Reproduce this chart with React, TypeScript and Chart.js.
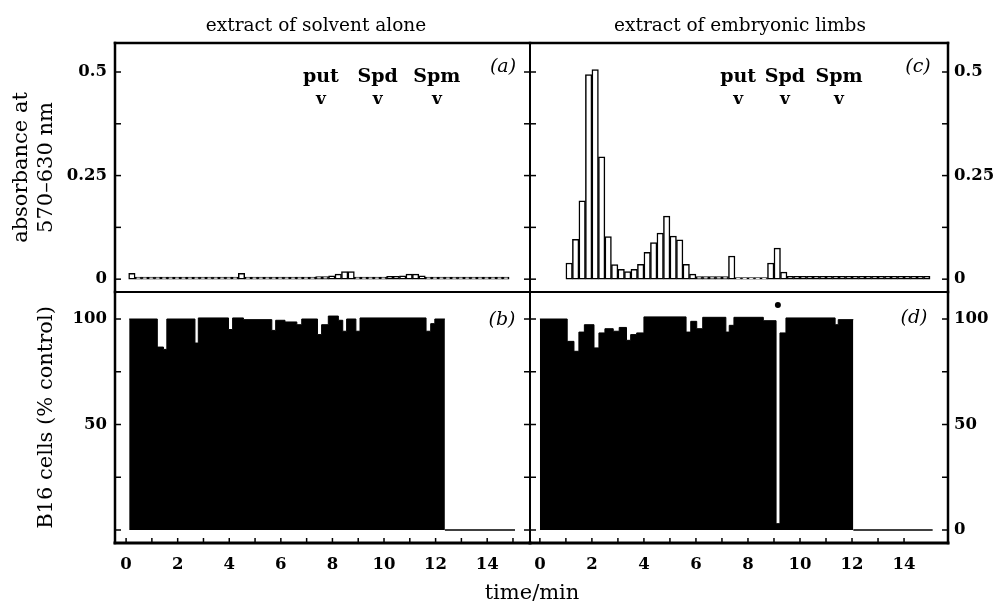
import React, { useEffect, useRef } from "react";
import { Chart, registerables } from "chart.js";
Chart.register(...registerables);

// ---------------- data ----------------
const binWidth = 0.25; // min per fraction

// (a) absorbance, extract of solvent alone (fractions start at 0.1 min)
const absStartA = 0.1;
const absorbanceA = [
  0.014,
  0.005, 0.005, 0.005, 0.005, 0.005, 0.005, 0.005, 0.005,
  0.005, 0.005, 0.005, 0.005, 0.005, 0.005, 0.005, 0.005,
  0.014,
  0.005, 0.005, 0.005, 0.005, 0.005, 0.005, 0.005, 0.005, 0.005, 0.005, 0.005,
  0.006, 0.006, 0.008, 0.012, 0.018, 0.018,
  0.005, 0.005, 0.005, 0.005, 0.005,
  0.007, 0.007, 0.008, 0.012, 0.012, 0.008,
  0.005, 0.005, 0.005, 0.005, 0.005, 0.005, 0.005, 0.005, 0.005, 0.005, 0.005, 0.005, 0.005,
];

// (c) absorbance, extract of embryonic limbs (fractions start at 1.0 min)
const absStartC = 1.0;
const absorbanceC = [
  0.039, 0.096, 0.189, 0.494, 0.506, 0.295, 0.103, 0.035, 0.024, 0.018,
  0.024, 0.036, 0.065, 0.088, 0.111, 0.152, 0.104, 0.095, 0.036, 0.012,
  0.006, 0.006, 0.006, 0.006, 0.006,
  0.056,
  0.004, 0.004, 0.004, 0.004, 0.004,
  0.039, 0.075, 0.017,
  0.007, 0.007, 0.007, 0.007, 0.007, 0.007, 0.007, 0.007, 0.007, 0.007, 0.007,
  0.007, 0.007, 0.007, 0.007, 0.007, 0.007, 0.007, 0.007, 0.007, 0.007, 0.007,
];

// (b) B16 cells (% control), step edges (min) and level after each edge
const cellTimesB = [
  0.12, 1.21, 1.45, 1.58, 2.67, 2.8, 3.97, 4.13, 4.55, 5.65, 5.8, 6.16, 6.62,
  6.81, 7.42, 7.58, 7.84, 8.23, 8.4, 8.55, 8.91, 9.07, 11.63, 11.81, 11.97, 12.36,
];
const cellValuesB = [
  100, 86.7, 85.6, 100, 88.6, 100.5, 95, 100.5, 99.7, 94.6, 99.4, 98.6, 97.3,
  100, 92.6, 97.3, 101.4, 99.4, 94.2, 100, 94.2, 100.5, 94.2, 97.8, 100,
];
const baselineTimesB = [12.36, 15.08];

// (d) B16 cells (% control)
const cellTimesD = [
  0, 1.05, 1.31, 1.5, 1.71, 2.08, 2.27, 2.5, 2.82, 3.05, 3.33, 3.49, 3.72, 4.0,
  5.62, 5.8, 6.03, 6.26, 7.15, 7.28, 7.46, 8.59, 9.08, 9.23, 9.46, 11.35, 11.47, 12.05,
];
const cellValuesD = [
  100, 89.4, 84.7, 93.8, 97.3, 86.3, 93.4, 95.4, 94.2, 96, 89.9, 92.6, 93.4,
  101, 93.8, 98.9, 95.4, 100.8, 93.8, 97, 100.8, 99.2, 3, 93.4, 100.5, 97.3, 99.7,
];
const baselineTimesD = [12.05, 15.1];
const dotTimesD = [9.15];
const dotValuesD = [106.6];

// elution markers
const markerLabels = ["put", "Spd", "Spm"];
const markerTimesA = [7.55, 9.75, 12.05];
const markerTimesC = [7.62, 9.42, 11.5];

// ticks
const absTicks = [0, 0.125, 0.25, 0.375, 0.5];
const absTickLabels = ["0", "", "0.25", "", "0.5"];
const cellTicks = [0, 25, 50, 75, 100];
const cellTickLabelsLeft = ["", "", "50", "", "100"];
const cellTickLabelsRight = ["0", "", "50", "", "100"];
const timeTicksLeft = [0, 1, 2, 3, 4, 5, 6, 7, 8, 9, 10, 11, 12, 13, 14, 15];
const timeTicksRight = [0, 1, 2, 3, 4, 5, 6, 7, 8, 9, 10, 11, 12, 13, 14];
const timeTickLabels = ["0", "", "2", "", "4", "", "6", "", "8", "", "10", "", "12", "", "14", ""];

// ---------------- layout / style ----------------
const W = 994;
const H = 603;
const FR = { left: 115, mid: 530, right: 948, top: 43, split: 292, bottom: 543 };
const XAXIS_H = 40;
const SERIF = "'DejaVu Serif', 'Liberation Serif', serif";
const TICK_FONT = { family: SERIF, size: 16.5, weight: "bold" as const };

type Txt = { text: string; x: number; y: number; font: string; align?: CanvasTextAlign; baseline?: CanvasTextBaseline };

function decor(sides: [number, number, number, number], xTicks: boolean, texts: (chart: any) => Txt[]) {
  return {
    id: "decor",
    afterDraw(chart: any) {
      const { ctx, chartArea: a } = chart;
      ctx.save();
      ctx.strokeStyle = "#000";
      ctx.fillStyle = "#000";
      const seg = (x1: number, y1: number, x2: number, y2: number, w: number, cap: CanvasLineCap = "butt") => {
        ctx.lineWidth = w;
        ctx.lineCap = cap;
        ctx.beginPath();
        ctx.moveTo(x1, y1);
        ctx.lineTo(x2, y2);
        ctx.stroke();
      };
      const ys = chart.scales.y;
      ys.ticks.forEach((t: any) => {
        const p = ys.getPixelForValue(t.value);
        seg(a.left, p, a.left + 6, p, 1.5);
        seg(a.right - 6, p, a.right, p, 1.5);
      });
      if (xTicks) {
        const xs = chart.scales.x;
        xs.ticks.forEach((t: any) => {
          const p = xs.getPixelForValue(t.value);
          seg(p, a.bottom, p, a.bottom - 5, 1.5);
        });
      }
      const [wl, wt, wr, wb] = sides;
      seg(a.left, a.top, a.left, a.bottom, wl, "square");
      seg(a.right, a.top, a.right, a.bottom, wr, "square");
      seg(a.left, a.top, a.right, a.top, wt, "square");
      seg(a.left, a.bottom, a.right, a.bottom, wb, "square");
      texts(chart).forEach((t) => {
        ctx.font = t.font;
        ctx.textAlign = t.align || "center";
        ctx.textBaseline = t.baseline || "alphabetic";
        ctx.fillText(t.text, t.x, t.y);
      });
      ctx.restore();
    },
  };
}

function yAxis(pos: "left" | "right", min: number, max: number, ticks: number[], labels: string[], title?: { text: string | string[]; pad: number }) {
  return {
    type: "linear",
    position: pos,
    min,
    max,
    afterBuildTicks: (s: any) => {
      s.ticks = ticks.map((v) => ({ value: v }));
    },
    afterFit: (s: any) => {
      s.width = pos === "left" ? FR.left : W - FR.right;
    },
    grid: { display: false, drawTicks: false },
    border: { display: false },
    ticks: {
      color: "#000",
      font: TICK_FONT,
      padding: pos === "left" ? 8 : 6,
      callback: (v: number) => {
        const i = ticks.indexOf(v);
        return i >= 0 ? labels[i] : "";
      },
    },
    title: title
      ? { display: true, text: title.text, color: "#000", font: { family: SERIF, size: 21, lineHeight: 1.2 }, padding: { top: title.pad, bottom: 0 } }
      : { display: false },
  };
}

function xAxis(min: number, max: number, ticks: number[], show: boolean) {
  const ax: any = {
    type: "linear",
    min,
    max,
    offset: false,
    display: show,
    afterBuildTicks: (s: any) => {
      s.ticks = ticks.map((v) => ({ value: v }));
    },
    grid: { display: false, drawTicks: false },
    border: { display: false },
    ticks: {
      autoSkip: false,
      maxRotation: 0,
      minRotation: 0,
      color: "#000",
      font: TICK_FONT,
      padding: 12,
      callback: (v: number) => {
        const i = ticks.indexOf(v);
        return i >= 0 ? timeTickLabels[i] : "";
      },
    },
  };
  if (show) ax.afterFit = (s: any) => { s.height = XAXIS_H; };
  return ax;
}

const common = {
  responsive: false,
  animation: false as const,
  devicePixelRatio: 1,
  events: [] as any[],
  plugins: { legend: { display: false }, tooltip: { enabled: false } },
};

const Y_TOP = { min: -0.031, max: 0.57 };
const Y_BOT = { min: -6.16, max: 112.8 };
const X_LEFT = { min: -0.43, max: 15.66 };
const X_RIGHT = { min: -0.38, max: 15.69 };

function barData(start: number, vals: number[]) {
  return vals.map((v, i) => ({ x: start + binWidth * (i + 0.5), y: v }));
}
function stepData(times: number[], vals: number[]) {
  return times.map((t, i) => ({ x: t, y: vals[Math.min(i, vals.length - 1)] }));
}

function barDataset(start: number, vals: number[]) {
  return {
    type: "bar",
    data: barData(start, vals),
    backgroundColor: "#fff",
    borderColor: "#000",
    borderWidth: 1.5,
    borderSkipped: false,
    barPercentage: 1,
    categoryPercentage: 1,
  };
}
function stepDataset(times: number[], vals: number[]) {
  return {
    type: "line",
    data: stepData(times, vals),
    stepped: "before",
    fill: "origin",
    backgroundColor: "#000",
    borderColor: "#000",
    borderWidth: 1,
    pointRadius: 0,
  };
}
function baselineDataset(times: number[]) {
  return {
    type: "line",
    data: times.map((t) => ({ x: t, y: 0 })),
    borderColor: "#000",
    borderWidth: 1.5,
    pointRadius: 0,
    fill: false,
  };
}

const markerTexts = (chart: any, times: number[]): Txt[] => {
  const xs = chart.scales.x;
  const out: Txt[] = [];
  times.forEach((t, i) => {
    const x = xs.getPixelForValue(t);
    out.push({ text: markerLabels[i], x, y: 82, font: `bold 19px ${SERIF}` });
    out.push({ text: "v", x, y: 104, font: `bold 17px ${SERIF}` });
  });
  return out;
};

function configA(): any {
  return {
    type: "bar",
    data: { datasets: [barDataset(absStartA, absorbanceA)] },
    options: {
      ...common,
      layout: { padding: { left: 0, top: FR.top, right: W - FR.mid, bottom: H - FR.split } },
      scales: {
        x: xAxis(X_LEFT.min, X_LEFT.max, timeTicksLeft, false),
        y: yAxis("left", Y_TOP.min, Y_TOP.max, absTicks, absTickLabels, { text: ["absorbance at", "570–630 nm"], pad: 9 }),
      },
    },
    plugins: [
      decor([2.5, 2.5, 2, 2], false, (c) => [
        { text: "extract of solvent alone", x: 316, y: 31, font: `18.5px ${SERIF}` },
        { text: "(a)", x: c.chartArea.right - 27, y: 67, font: `italic 19px ${SERIF}`, baseline: "middle" },
        ...markerTexts(c, markerTimesA),
      ]),
    ],
  };
}

function configC(): any {
  return {
    type: "bar",
    data: { datasets: [barDataset(absStartC, absorbanceC)] },
    options: {
      ...common,
      layout: { padding: { left: FR.mid, top: FR.top, right: 0, bottom: H - FR.split } },
      scales: {
        x: xAxis(X_RIGHT.min, X_RIGHT.max, timeTicksRight, false),
        y: yAxis("right", Y_TOP.min, Y_TOP.max, absTicks, absTickLabels),
      },
    },
    plugins: [
      decor([2, 2.5, 2.5, 2], false, (c) => [
        { text: "extract of embryonic limbs", x: 740, y: 31, font: `18.5px ${SERIF}` },
        { text: "(c)", x: c.chartArea.right - 30, y: 67, font: `italic 19px ${SERIF}`, baseline: "middle" },
        ...markerTexts(c, markerTimesC),
      ]),
    ],
  };
}

function configB(): any {
  return {
    type: "line",
    data: { datasets: [stepDataset(cellTimesB, cellValuesB), baselineDataset(baselineTimesB)] },
    options: {
      ...common,
      layout: { padding: { left: 0, top: FR.split, right: W - FR.mid, bottom: H - FR.bottom - XAXIS_H } },
      scales: {
        x: xAxis(X_LEFT.min, X_LEFT.max, timeTicksLeft, true),
        y: yAxis("left", Y_BOT.min, Y_BOT.max, cellTicks, cellTickLabelsLeft, { text: "B16 cells (% control)", pad: 34 }),
      },
    },
    plugins: [
      decor([2.5, 2, 2, 3], true, (c) => [
        { text: "(b)", x: c.chartArea.right - 28, y: 320, font: `italic 19px ${SERIF}`, baseline: "middle" },
        { text: "time/min", x: 532, y: 599, font: `21px ${SERIF}` },
      ]),
    ],
  };
}

function configD(): any {
  return {
    type: "line",
    data: {
      datasets: [
        stepDataset(cellTimesD, cellValuesD),
        baselineDataset(baselineTimesD),
        {
          type: "line",
          data: dotTimesD.map((t, i) => ({ x: t, y: dotValuesD[i] })),
          showLine: false,
          pointRadius: 3,
          pointBackgroundColor: "#000",
          pointBorderColor: "#000",
          pointBorderWidth: 0,
        },
      ],
    },
    options: {
      ...common,
      layout: { padding: { left: FR.mid, top: FR.split, right: 0, bottom: H - FR.bottom - XAXIS_H } },
      scales: {
        x: xAxis(X_RIGHT.min, X_RIGHT.max, timeTicksRight, true),
        y: yAxis("right", Y_BOT.min, Y_BOT.max, cellTicks, cellTickLabelsRight),
      },
    },
    plugins: [
      decor([2, 2, 2.5, 3], true, (c) => [
        { text: "(d)", x: c.chartArea.right - 34, y: 318, font: `italic 19px ${SERIF}`, baseline: "middle" },
      ]),
    ],
  };
}

function Panel({ make }: { make: () => any }) {
  const ref = useRef<HTMLCanvasElement | null>(null);
  useEffect(() => {
    if (!ref.current) return;
    const chart = new Chart(ref.current, make());
    return () => chart.destroy();
  }, [make]);
  return <canvas ref={ref} width={W} height={H} style={{ position: "absolute", left: 0, top: 0, width: W, height: H }} />;
}

export default function App() {
  return (
    <div style={{ position: "absolute", left: 0, top: 0, width: W, height: H, background: "#fff", overflow: "hidden" }}>
      <Panel make={configA} />
      <Panel make={configC} />
      <Panel make={configB} />
      <Panel make={configD} />
    </div>
  );
}
